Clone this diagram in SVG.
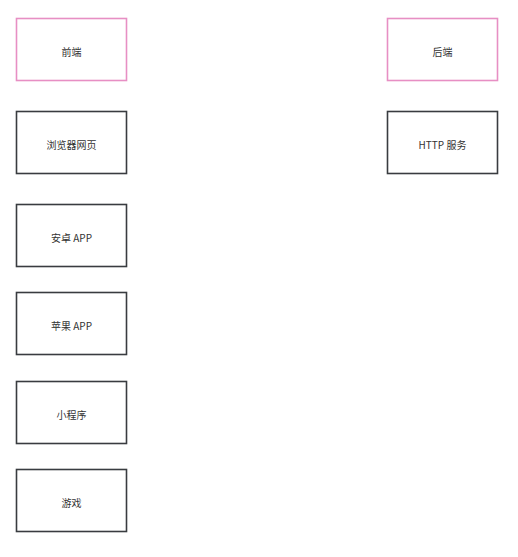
<svg xmlns="http://www.w3.org/2000/svg" width="518" height="557" viewBox="0 0 518 557">
<style>
.box{fill:#fff;stroke:#393c40;stroke-width:1.6}
.head{fill:#fff;stroke:#e78fc4;stroke-width:1.6}
text{font-family:"Noto Sans CJK SC","Noto Sans",sans-serif;font-size:10px;fill:#333;text-anchor:middle;dominant-baseline:central}
</style>
<rect width="518" height="557" fill="#fff"/>
<g id="frontend"><rect class="head" x="16.5" y="18.5" width="110" height="62"/><text x="71.5" y="51">前端</text></g>
<g id="web"><rect class="box" x="16.5" y="111.5" width="110" height="62"/><text x="71.5" y="144">浏览器网页</text></g>
<g id="android"><rect class="box" x="16.5" y="204.5" width="110" height="62"/><text x="71.5" y="237">安卓 APP</text></g>
<g id="ios"><rect class="box" x="16.5" y="292.5" width="110" height="62"/><text x="71.5" y="325">苹果 APP</text></g>
<g id="miniapp"><rect class="box" x="16.5" y="381.5" width="110" height="62"/><text x="71.5" y="414">小程序</text></g>
<g id="game"><rect class="box" x="16.5" y="469.5" width="110" height="62"/><text x="71.5" y="502">游戏</text></g>
<g id="backend"><rect class="head" x="387.5" y="18.5" width="110" height="62"/><text x="442.5" y="51">后端</text></g>
<g id="http"><rect class="box" x="387.5" y="111.5" width="110" height="62"/><text x="442.5" y="144">HTTP 服务</text></g>
<g id="connectors"></g>
</svg>
